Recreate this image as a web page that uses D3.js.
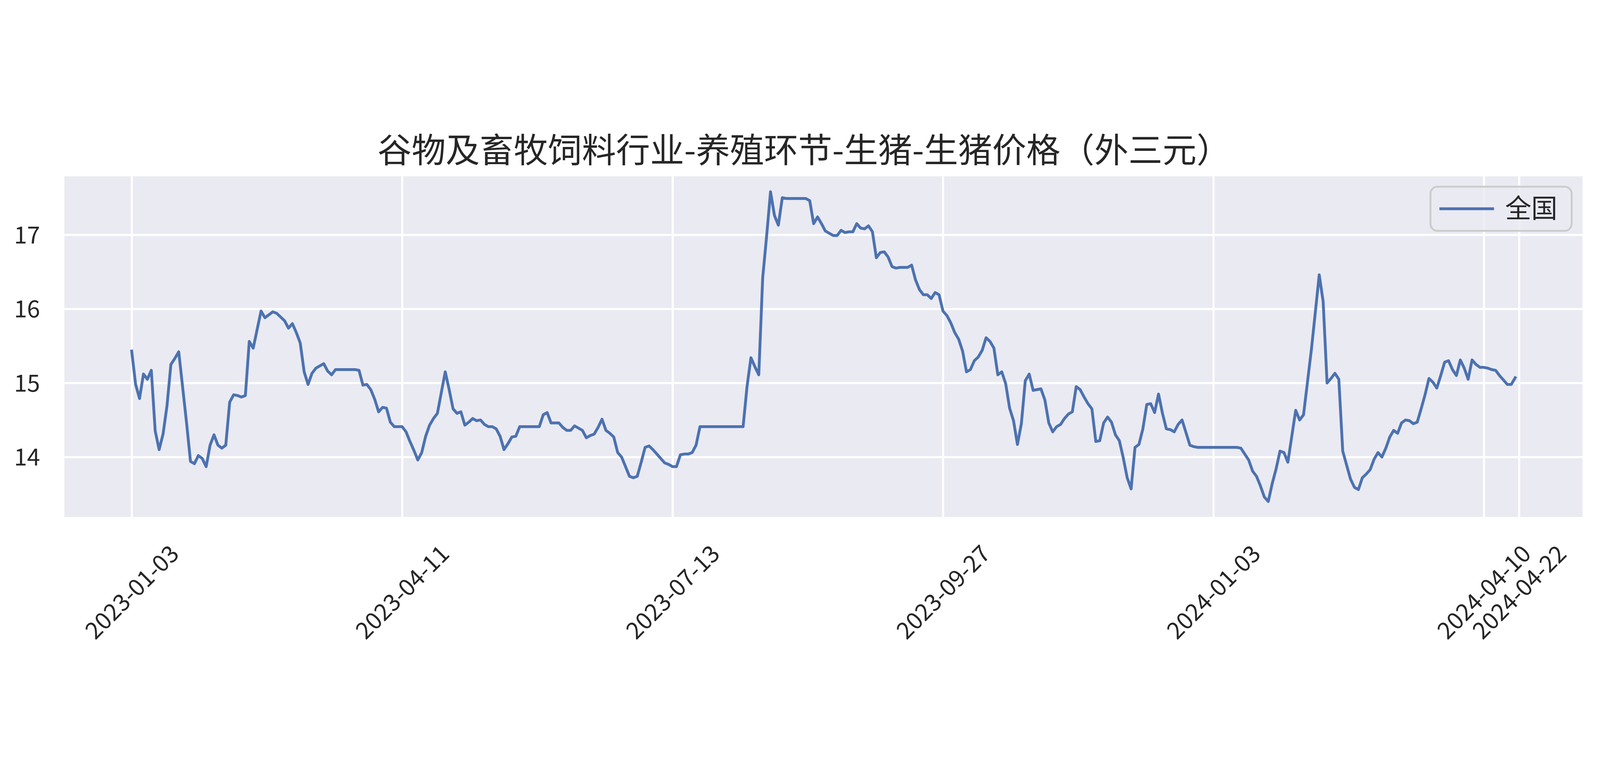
<!DOCTYPE html>
<html>
<head>
<meta charset="utf-8">
<script src="https://cdn.jsdelivr.net/npm/d3@7"></script>
<style>
  html, body { margin: 0; padding: 0; background: #ffffff; width: 100%; height: 100%; overflow: hidden; }
  svg { display: block; width: 100vw; height: 100vh; }
</style>
</head>
<body>
<svg id="chart" viewBox="0 0 5870 1988" preserveAspectRatio="xMidYMid meet"></svg>
<script>
// ---------------- data ----------------
const titleText = "谷物及畜牧饲料行业-养殖环节-生猪-生猪价格（外三元）";
const seriesName = "全国";

const tickIndex  = [0, 69, 138, 207, 276, 345, 354];
const tickLabels = ["2023-01-03", "2023-04-11", "2023-07-13", "2023-09-27", "2024-01-03", "2024-04-10", "2024-04-22"];
const yTicks = [14, 15, 16, 17];

const values = [
  15.43, 14.98, 14.79, 15.12, 15.05, 15.17, 14.35, 14.10, 14.31, 14.69,
  15.25, 15.33, 15.42, 14.94, 14.46, 13.94, 13.91, 14.02, 13.98, 13.87,
  14.16, 14.30, 14.16, 14.12, 14.16, 14.74, 14.84, 14.83, 14.81, 14.83,
  15.56, 15.47, 15.72, 15.97, 15.88, 15.92, 15.96, 15.94, 15.89, 15.84,
  15.74, 15.80, 15.68, 15.54, 15.15, 14.98, 15.13, 15.20, 15.23, 15.26,
  15.16, 15.11, 15.18, 15.18, 15.18, 15.18, 15.18, 15.18, 15.17, 14.97,
  14.98, 14.91, 14.78, 14.61, 14.67, 14.66, 14.47, 14.41, 14.41, 14.41,
  14.34, 14.21, 14.09, 13.96, 14.06, 14.28, 14.43, 14.52, 14.59, 14.87,
  15.15, 14.91, 14.65, 14.59, 14.61, 14.43, 14.47, 14.52, 14.49, 14.50,
  14.44, 14.41, 14.41, 14.38, 14.28, 14.10, 14.18, 14.27, 14.28, 14.41,
  14.41, 14.41, 14.41, 14.41, 14.41, 14.57, 14.60, 14.46, 14.46, 14.46,
  14.40, 14.36, 14.36, 14.42, 14.39, 14.36, 14.26, 14.29, 14.31, 14.40,
  14.51, 14.36, 14.32, 14.27, 14.06, 14.00, 13.87, 13.74, 13.72, 13.74,
  13.93, 14.13, 14.15, 14.10, 14.04, 13.98, 13.92, 13.90, 13.87, 13.87,
  14.03, 14.04, 14.04, 14.06, 14.16, 14.41, 14.41, 14.41, 14.41, 14.41,
  14.41, 14.41, 14.41, 14.41, 14.41, 14.41, 14.41, 14.95, 15.34, 15.22,
  15.11, 16.42, 16.98, 17.58, 17.26, 17.13, 17.50, 17.49, 17.49, 17.49,
  17.49, 17.49, 17.49, 17.46, 17.15, 17.24, 17.15, 17.05, 17.02, 16.99,
  16.99, 17.06, 17.03, 17.04, 17.04, 17.15, 17.09, 17.08, 17.12, 17.04,
  16.69, 16.76, 16.77, 16.70, 16.57, 16.55, 16.56, 16.56, 16.56, 16.59,
  16.39, 16.26, 16.19, 16.19, 16.14, 16.22, 16.19, 15.97, 15.91, 15.81,
  15.68, 15.59, 15.43, 15.15, 15.18, 15.30, 15.35, 15.44, 15.61, 15.56,
  15.47, 15.11, 15.15, 14.99, 14.66, 14.49, 14.17, 14.45, 15.03, 15.12,
  14.90, 14.91, 14.92, 14.77, 14.46, 14.34, 14.41, 14.44, 14.52, 14.58,
  14.61, 14.95, 14.91, 14.81, 14.72, 14.65, 14.21, 14.22, 14.46, 14.54,
  14.47, 14.30, 14.22, 13.99, 13.72, 13.57, 14.13, 14.17, 14.38, 14.71,
  14.72, 14.60, 14.85, 14.59, 14.38, 14.37, 14.34, 14.44, 14.50, 14.33,
  14.16, 14.14, 14.13, 14.13, 14.13, 14.13, 14.13, 14.13, 14.13, 14.13,
  14.13, 14.13, 14.13, 14.12, 14.04, 13.96, 13.81, 13.74, 13.61, 13.46,
  13.40, 13.64, 13.84, 14.08, 14.06, 13.93, 14.28, 14.63, 14.50, 14.57,
  15.01, 15.45, 15.95, 16.46, 16.10, 15.00, 15.06, 15.13, 15.05, 14.08,
  13.89, 13.70, 13.59, 13.56, 13.72, 13.77, 13.83, 13.97, 14.06, 14.00,
  14.12, 14.27, 14.36, 14.32, 14.46, 14.50, 14.49, 14.45, 14.47, 14.65,
  14.84, 15.06, 15.01, 14.93, 15.10, 15.28, 15.30, 15.18, 15.10, 15.31,
  15.20, 15.05, 15.31, 15.25, 15.21, 15.21, 15.20, 15.18, 15.17, 15.10,
  15.04, 14.98, 14.98, 15.07
];

// ---------------- layout ----------------
const W = 5870, H = 1988;
const plot = { left: 236, right: 5806, top: 216, bottom: 1465 };
const pw = plot.right - plot.left, ph = plot.bottom - plot.top;
const textColor = "#262626";
const lineColor = "#4C72B0";
const fontFamily = "'Noto Sans CJK SC', 'Noto Sans', sans-serif";

const svg = d3.select("#chart");
svg.append("rect").attr("width", W).attr("height", H).attr("fill", "#ffffff");

const n = values.length;
const xm = 0.0487 * (n - 1);
const x = d3.scaleLinear().domain([-xm, (n - 1) + xm]).range([plot.left, plot.right]);
const ext = d3.extent(values);
const ypad = (ext[1] - ext[0]) * 0.05;
const y = d3.scaleLinear().domain([ext[0] - ypad, ext[1] + ypad]).range([plot.bottom, plot.top]);

// plot background
svg.append("rect")
  .attr("x", plot.left).attr("y", plot.top)
  .attr("width", pw).attr("height", ph)
  .attr("fill", "#EAEAF2");

// y axis + horizontal grid
const yAxis = svg.append("g")
  .attr("transform", `translate(${plot.left},0)`)
  .call(d3.axisLeft(y).tickValues(yTicks).tickFormat(d3.format("d")).tickSize(-pw).tickPadding(89));
yAxis.select(".domain").remove();
yAxis.selectAll(".tick line").attr("stroke", "#ffffff").attr("stroke-width", 7.5);
yAxis.selectAll(".tick text")
  .attr("fill", textColor)
  .attr("font-family", fontFamily)
  .attr("font-size", 86)
  .attr("dy", "0.36em");

// x axis + vertical grid
const xAxis = svg.append("g")
  .attr("transform", `translate(0,${plot.bottom})`)
  .call(d3.axisBottom(x).tickValues(tickIndex).tickFormat((d, i) => tickLabels[i]).tickSize(-ph));
xAxis.select(".domain").remove();
xAxis.selectAll(".tick line").attr("stroke", "#ffffff").attr("stroke-width", 7.5);
xAxis.selectAll(".tick text")
  .attr("fill", textColor)
  .attr("font-family", fontFamily)
  .attr("font-size", 86)
  .attr("text-anchor", "middle")
  .attr("y", 0)
  .attr("dy", "0.36em")
  .attr("transform", `translate(0,${1740 - plot.bottom}) rotate(-45)`);

// series line
const line = d3.line().x((d, i) => x(i)).y(d => y(d));
svg.append("path")
  .datum(values)
  .attr("d", line)
  .attr("fill", "none")
  .attr("stroke", lineColor)
  .attr("stroke-width", 10.4)
  .attr("stroke-linejoin", "round")
  .attr("stroke-linecap", "square");

// legend
const lg = svg.append("g");
lg.append("rect")
  .attr("x", 5248).attr("y", 254).attr("width", 518).attr("height", 162)
  .attr("rx", 26).attr("ry", 26)
  .attr("fill", "#EAEAF2").attr("fill-opacity", 0.8)
  .attr("stroke", "#cccccc").attr("stroke-width", 7);
lg.append("line")
  .attr("x1", 5286).attr("x2", 5476).attr("y1", 335).attr("y2", 335)
  .attr("stroke", lineColor).attr("stroke-width", 10.4).attr("stroke-linecap", "square");
lg.append("text")
  .attr("x", 5522).attr("y", 368)
  .attr("fill", textColor)
  .attr("font-family", fontFamily)
  .attr("font-size", 96)
  .text(seriesName);

// title
svg.append("text")
  .attr("x", 2950).attr("y", 166)
  .attr("text-anchor", "middle")
  .attr("fill", textColor)
  .attr("font-family", fontFamily)
  .attr("font-size", 125)
  .text(titleText);
</script>
</body>
</html>
